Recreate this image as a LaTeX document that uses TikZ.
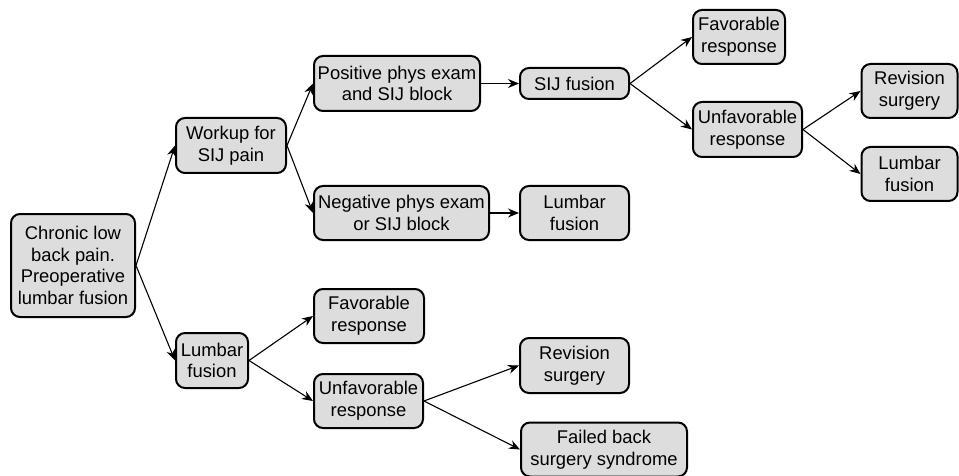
\documentclass[tikz,border=0pt]{standalone}
\usepackage{fontspec}
\setmainfont{Liberation Sans}
\usetikzlibrary{arrows.meta}
\definecolor{boxfill}{RGB}{221,221,221}
\tikzset{
  box/.style={draw=black, fill=boxfill, line width=1pt, rounded corners=4.5pt,
    align=center, inner sep=0pt, font=\fontsize{9.2pt}{10.8pt}\selectfont},
  conn/.style={line width=0.55pt, -{Stealth[length=5.5pt,width=4.5pt]}}
}
\begin{document}
\begin{tikzpicture}[x=0.5pt,y=-0.5pt]
\useasboundingbox (0,0) rectangle (959,476);
\node[box, minimum width=62pt, minimum height=51.5pt] (chronic) at (73,265.5) {Chronic low\\back pain.\\Preoperative\\lumbar fusion};
\node[box, minimum width=55pt, minimum height=27.5pt] (workup) at (231,145.5) {Workup for\\SIJ pain};
\node[box, minimum width=36pt, minimum height=27.5pt] (lumL) at (212,360.5) {Lumbar\\fusion};
\node[box, minimum width=83pt, minimum height=27.5pt] (pos) at (397,83.5) {Positive phys exam\\and SIJ block};
\node[box, minimum width=87.5pt, minimum height=27pt] (neg) at (401.5,213) {Negative phys exam\\or SIJ block};
\node[box, minimum width=54.5pt, minimum height=15.5pt] (sij) at (574.5,83.5) {SIJ fusion};
\node[box, minimum width=54.5pt, minimum height=27pt] (lumM) at (574.5,213) {Lumbar\\fusion};
\node[box, minimum width=46pt, minimum height=27pt] (favT) at (739,37) {Favorable\\response};
\node[box, minimum width=54.5pt, minimum height=27.5pt] (unfT) at (747.5,129.5) {Unfavorable\\response};
\node[box, minimum width=48pt, minimum height=27pt] (revT) at (909.5,91) {Revision\\surgery};
\node[box, minimum width=48pt, minimum height=27pt] (lumR) at (909.5,174) {Lumbar\\fusion};
\node[box, minimum width=55pt, minimum height=27pt] (favL) at (369,316) {Favorable\\response};
\node[box, minimum width=54.5pt, minimum height=27pt] (unfL) at (368.5,401) {Unfavorable\\response};
\node[box, minimum width=54.5pt, minimum height=27.5pt] (revL) at (574.5,365.5) {Revision\\surgery};
\node[box, minimum width=83pt, minimum height=27pt] (fail) at (604,449.5) {Failed back\\surgery syndrome};
\draw[conn] (chronic.east) -- (workup.west);
\draw[conn] (chronic.east) -- (lumL.west);
\draw[conn] (workup.east) -- (pos.west);
\draw[conn] (workup.east) -- (neg.west);
\draw[conn] (pos.east) -- (sij.west);
\draw[conn] (neg.east) -- (lumM.west);
\draw[conn] (sij.east) -- (favT.west);
\draw[conn] (sij.east) -- (unfT.west);
\draw[conn] (unfT.east) -- (revT.west);
\draw[conn] (unfT.east) -- (lumR.west);
\draw[conn] (lumL.east) -- (favL.west);
\draw[conn] (lumL.east) -- (unfL.west);
\draw[conn] (unfL.east) -- (revL.west);
\draw[conn] (unfL.east) -- (fail.west);
\end{tikzpicture}
\end{document}
